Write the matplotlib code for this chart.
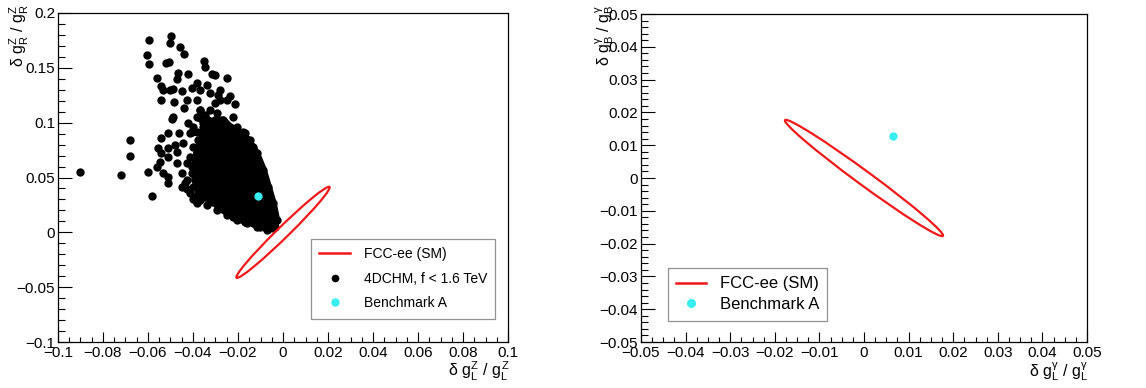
"""
Coupling deviations
===================

4DCHM scan points vs. FCC-ee sensitivity ellipses.
"""
import numpy as np
import matplotlib.pyplot as plt
from matplotlib.patches import Ellipse, Polygon
from matplotlib.lines import Line2D
from matplotlib.ticker import MultipleLocator

plt.rcParams['font.family'] = ['Liberation Sans', 'DejaVu Sans']
plt.rcParams['mathtext.fontset'] = 'custom'
plt.rcParams['mathtext.rm'] = 'Liberation Sans'
plt.rcParams['mathtext.it'] = 'Liberation Sans'

###############################################################################
# Values.
# Left panel: 4DCHM scan points (dg_L^Z/g_L^Z, dg_R^Z/g_R^Z)
scan_x = [-0.090, -0.072, -0.068, -0.068, -0.060, -0.058, -0.056, -0.054,
          -0.0606, -0.0596, -0.0596, -0.0561, -0.0498, -0.0502, -0.0521,
          -0.0507, -0.0458, -0.0439, -0.0351, -0.0348, -0.0316, -0.0302,
          -0.0250, -0.0465, -0.0424, -0.0473, -0.0541, -0.0532, -0.0504,
          -0.0487, -0.0542, -0.0484, -0.0441, -0.0487, -0.0495, -0.0450,
          -0.0428, -0.0406, -0.0384, -0.0370, -0.0340, -0.0384, -0.0324,
          -0.0287, -0.0236, -0.0213, -0.0280, -0.0302, -0.0370, -0.0384,
          -0.0421, -0.0406, -0.0462, -0.0510, -0.0446, -0.0480, -0.0510,
          -0.0554, -0.0540, -0.0470, -0.0510, -0.0547, -0.0532, -0.0510,
          -0.0510, -0.0470, -0.0451, -0.0436, -0.0428, -0.0399, -0.0384,
          -0.0370, -0.0399, -0.0406, -0.0413, -0.0399, -0.0354, -0.0340,
          -0.0347, -0.0169, -0.0203, -0.0161, -0.0124, -0.0310, -0.0280,
          # crowded band around the core
          -0.0369, -0.0347, -0.0324, -0.0295, -0.0369, -0.0332, -0.0354,
          -0.0384, -0.0376, -0.0399, -0.0369, -0.0413, -0.0428, -0.0406,
          -0.0391, -0.0428, -0.0450, -0.0413, -0.0384, -0.0339, -0.0295,
          -0.0250, -0.0206, -0.0161, -0.0117, -0.0073, -0.0043, -0.0280,
          -0.0250, -0.0221, -0.0206, -0.0176, -0.0147, -0.0132]
scan_y = [0.055, 0.052, 0.084, 0.070, 0.055, 0.033, 0.060, 0.086,
          0.1617, 0.175, 0.1535, 0.1404, 0.1793, 0.1723, 0.154,
          0.155, 0.1687, 0.1626, 0.1562, 0.1511, 0.1444, 0.1435,
          0.1404, 0.145, 0.1444, 0.1398, 0.1335, 0.130, 0.130,
          0.1304, 0.1207, 0.119, 0.113, 0.1055, 0.103, 0.129,
          0.121, 0.132, 0.136, 0.1298, 0.1345, 0.121, 0.1268,
          0.1253, 0.124, 0.117, 0.121, 0.1177, 0.1117, 0.1055,
          0.0994, 0.0918, 0.0903, 0.0903, 0.0818, 0.0797, 0.0766,
          0.0766, 0.0727, 0.0733, 0.069, 0.0645, 0.0538, 0.0508,
          0.0447, 0.063, 0.0538, 0.0453, 0.0396, 0.0301, 0.034,
          0.0295, 0.0417, 0.0538, 0.0903, 0.0964, 0.0994, 0.0933,
          0.0842, 0.0903, 0.0873, 0.0812, 0.0706, 0.0948, 0.0918,
          0.1116, 0.1070, 0.1116, 0.1085, 0.1040, 0.1025, 0.0964,
          0.0918, 0.0842, 0.0782, 0.0751, 0.0690, 0.0630, 0.0599,
          0.0538, 0.0478, 0.0417, 0.0356, 0.0265, 0.0250, 0.0204,
          0.0159, 0.0113, 0.0083, 0.0052, 0.0022, 0.0037, 0.1298,
          0.1207, 0.1055, 0.0964, 0.0918, 0.0842, 0.0782]

# outline of the densely populated part of the scan
core_x = [-0.0302, -0.0265, -0.0236, -0.0191, -0.0154, -0.0117, -0.0087,
          -0.0065, -0.0043, -0.0028, -0.0036, -0.0065, -0.0102, -0.0132,
          -0.0169, -0.0221, -0.0280, -0.0310, -0.0347, -0.0376, -0.0391,
          -0.0396, -0.0384, -0.0369, -0.0351, -0.0332]
core_y = [0.1025, 0.1025, 0.0964, 0.0903, 0.0842, 0.0721, 0.0569,
          0.0417, 0.0265, 0.0113, 0.0052, 0.0028, 0.0052, 0.0083,
          0.0098, 0.0143, 0.0219, 0.0280, 0.0326, 0.0387, 0.0478,
          0.0599, 0.0721, 0.0812, 0.0903, 0.0979]

bench_z = (-0.011, 0.0335)
bench_gamma = (0.0065, 0.0127)

# FCC-ee (SM) ellipses: centre, full major/minor axis, angle (data units)
fcc_z = dict(xy=(0.0, 0.0), width=0.0926, height=0.0065, angle=63.7)
fcc_gamma = dict(xy=(0.0, 0.0), width=0.0500, height=0.0038, angle=-45.0)

red = '#f01818'
cyan = '#38eef0'

###############################################################################
# Figure with two ROOT-like frames.
fig = plt.figure(figsize=(11.46, 3.88), dpi=100)
W, H = 1146., 388.
ax1 = fig.add_axes([58 / W, 1 - 342 / H, 450 / W, 329 / H])
ax2 = fig.add_axes([641 / W, 1 - 342 / H, 446 / W, 328 / H])


def fmt(v, pos):
    return ('%g' % (round(v, 4) + 0.0)).replace('-', '\u2212')


def style(ax, xmaj, xmin, ymaj, ymin):
    ax.xaxis.set_major_locator(MultipleLocator(xmaj))
    ax.xaxis.set_minor_locator(MultipleLocator(xmin))
    ax.yaxis.set_major_locator(MultipleLocator(ymaj))
    ax.yaxis.set_minor_locator(MultipleLocator(ymin))
    ax.tick_params(which='both', direction='in', top=False, right=False,
                   labelsize=11, width=0.8)
    ax.tick_params(axis='x', which='major', length=7, pad=3)
    ax.tick_params(axis='x', which='minor', length=3.5)
    ax.tick_params(axis='y', which='major', length=10, pad=2)
    ax.tick_params(axis='y', which='minor', length=5)
    for s in ax.spines.values():
        s.set_linewidth(0.9)
    ax.xaxis.set_major_formatter(plt.FuncFormatter(fmt))
    ax.yaxis.set_major_formatter(plt.FuncFormatter(fmt))


###############################################################################
# Left: Z couplings
ax1.add_patch(Polygon(np.column_stack([core_x, core_y]), closed=True,
                      facecolor='black', edgecolor='black', lw=5,
                      joinstyle='round', zorder=2))
ax1.plot(scan_x, scan_y, 'o', color='black', ms=6, mew=0, zorder=3)
ax1.plot(core_x, core_y, 'o', color='black', ms=6, mew=0, zorder=3)
ax1.plot(*bench_z, 'o', color=cyan, ms=6, mew=0, zorder=4)
ax1.add_patch(Ellipse(**fcc_z, fill=False, edgecolor=red, lw=1.6, zorder=5))
ax1.set_xlim(-0.1, 0.1)
ax1.set_ylim(-0.1, 0.2)
style(ax1, 0.02, 0.005, 0.05, 0.01)

h1 = [Line2D([], [], color=red, lw=1.8),
      Line2D([], [], ls='', marker='o', color='black', ms=4.5),
      Line2D([], [], ls='', marker='o', color=cyan, ms=5)]
leg1 = ax1.legend(h1, ['FCC-ee (SM)', '4DCHM, f < 1.6 TeV', 'Benchmark A'],
                  loc='upper left', bbox_to_anchor=(0.562, 0.313),
                  fontsize=10, frameon=True, fancybox=False,
                  edgecolor='#777777', borderaxespad=0, handlelength=2.2,
                  labelspacing=0.75, borderpad=0.6, handletextpad=1.0)
leg1.get_frame().set_linewidth(0.9)

fig.text(8 / W, 1 - 5 / H, r'$\delta\ g^{Z}_{R}\ /\ g^{Z}_{R}$',
         rotation=90, ha='left', va='top', fontsize=11.5)
fig.text(510 / W, 5 / H, r'$\delta\ g^{Z}_{L}\ /\ g^{Z}_{L}$',
         ha='right', va='bottom', fontsize=11.5)

###############################################################################
# Right: photon couplings
ax2.add_patch(Ellipse(**fcc_gamma, fill=False, edgecolor=red, lw=1.6,
                      zorder=5))
ax2.plot(*bench_gamma, 'o', color=cyan, ms=6, mew=0, zorder=4)
ax2.set_xlim(-0.05, 0.05)
ax2.set_ylim(-0.05, 0.05)
style(ax2, 0.01, 0.0025, 0.01, 0.002)

h2 = [Line2D([], [], color=red, lw=1.8),
      Line2D([], [], ls='', marker='o', color=cyan, ms=5.5)]
leg2 = ax2.legend(h2, ['FCC-ee (SM)', 'Benchmark A'],
                  loc='upper left', bbox_to_anchor=(0.0605, 0.2256),
                  fontsize=12, frameon=True, fancybox=False,
                  edgecolor='#777777', borderaxespad=0, handlelength=1.8,
                  labelspacing=0.35, borderpad=0.5, handletextpad=0.8)
leg2.get_frame().set_linewidth(0.9)

fig.text(593 / W, 1 - 5 / H, r'$\delta\ g^{\gamma}_{B}\ /\ g^{\gamma}_{B}$',
         rotation=90, ha='left', va='top', fontsize=11.5)
fig.text(1089 / W, 5 / H, r'$\delta\ g^{\gamma}_{L}\ /\ g^{\gamma}_{L}$',
         ha='right', va='bottom', fontsize=11.5)

fig.savefig('out.png', dpi=100)
